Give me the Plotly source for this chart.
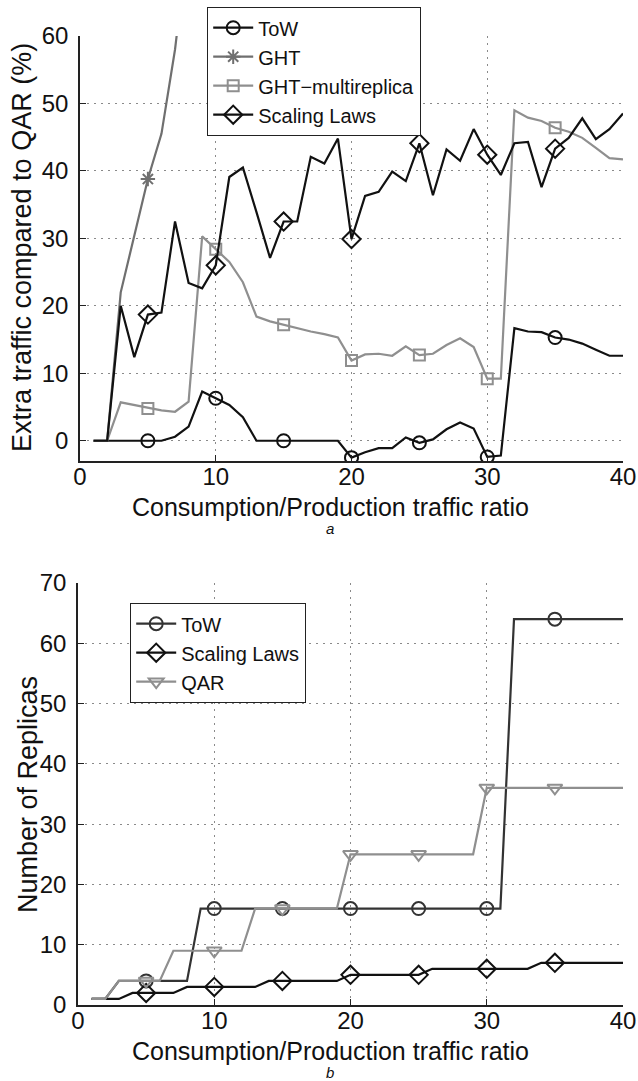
import plotly.graph_objects as go

# ---------------- data ----------------
ratio = list(range(1, 41))

# panel a: extra traffic compared to QAR (%)
tow_a = [0, 0, 0, 0, 0, 0, 0.6, 2.1, 7.3, 6.3,
         5.3, 3.5, 0, 0, 0, 0, 0, 0, 0, -2.5,
         -1.7, -1.1, -1.1, 0.5, -0.3, 0.2, 1.7, 2.7, 1.8, -2.4,
         -2.2, 16.7, 16.2, 16.1, 15.3, 15.0, 14.4, 13.5, 12.6, 12.6]
ght_x = [1, 2, 3, 4, 5, 6, 7, 8, 9]
ght_a = [0, 0, 22.0, 30.4, 38.8, 45.5, 58.0, 75.0, 90.0]
ghtm_a = [0, 0, 5.7, 5.3, 4.8, 4.5, 4.3, 5.8, 30.3, 28.4,
          26.5, 23.5, 18.4, 17.7, 17.2, 16.6, 16.2, 15.8, 15.3, 11.9,
          12.8, 12.9, 12.6, 14.0, 12.7, 12.9, 14.2, 15.2, 13.9, 9.2,
          9.2, 49.0, 47.9, 47.4, 46.4, 45.8, 44.9, 43.4, 41.9, 41.7]
scal_a = [0, 0, 20.0, 12.4, 18.7, 19.0, 32.5, 23.4, 22.6, 26.0,
          39.1, 40.5, 33.9, 27.1, 32.5, 32.5, 42.1, 41.1, 44.8, 29.9,
          36.3, 36.9, 39.9, 38.5, 44.1, 36.4, 43.2, 41.5, 46.2, 42.4,
          39.4, 44.1, 44.3, 37.6, 43.3, 44.9, 47.8, 44.7, 46.2, 48.5]

# panel b: number of replicas
tow_b = [1, 1] + [4] * 6 + [16] * 23 + [64] * 9
scal_b = [1] * 3 + [2] * 4 + [3] * 6 + [4] * 6 + [5] * 6 + [6] * 8 + [7] * 7
qar_b = [1] * 2 + [4] * 4 + [9] * 6 + [16] * 7 + [25] * 10 + [36] * 11

ticks_x = [0, 10, 20, 30, 40]
ticks_ya = [0, 10, 20, 30, 40, 50, 60]
ticks_yb = [0, 10, 20, 30, 40, 50, 60, 70]

FONT = "Liberation Sans, Arial, Helvetica, sans-serif"
BLACK = "#111111"
DARK = "#333333"
MID = "#6f6f6f"
LIGHT = "#8f8f8f"

W, H = 638, 1081


def marks(xs, ys):
    pts = [(a, b) for a, b in zip(xs, ys) if a % 5 == 0 and a < 40]
    return [p[0] for p in pts], [p[1] for p in pts]


fig = go.Figure()


def add_series(xs, ys, name, color, symbol, msize, xa, ya, legend, lw=2.2):
    fig.add_trace(go.Scatter(x=xs, y=ys, mode="lines", line=dict(color=color, width=lw),
                             showlegend=False, xaxis=xa, yaxis=ya, hoverinfo="skip"))
    mx, my = marks(xs, ys)
    fig.add_trace(go.Scatter(x=mx, y=my, mode="markers",
                             marker=dict(symbol=symbol, size=msize, color=color,
                                         line=dict(color=color, width=2)),
                             showlegend=False, xaxis=xa, yaxis=ya))
    fig.add_trace(go.Scatter(x=[None], y=[None], mode="lines+markers", name=name,
                             line=dict(color=color, width=lw),
                             marker=dict(symbol=symbol, size=msize, color=color,
                                         line=dict(color=color, width=2)),
                             xaxis=xa, yaxis=ya, legend=legend))


add_series(ratio, tow_a, "ToW", BLACK, "circle-open", 13, "x", "y", "legend")
add_series(ght_x, ght_a, "GHT", MID, "asterisk-open", 12, "x", "y", "legend")
add_series(ratio, ghtm_a, "GHT\u2212multireplica", LIGHT, "square-open", 11, "x", "y", "legend")
add_series(ratio, scal_a, "Scaling Laws", BLACK, "diamond-open", 14, "x", "y", "legend")

add_series(ratio, tow_b, "ToW", DARK, "circle-open", 13, "x2", "y2", "legend2")
add_series(ratio, scal_b, "Scaling Laws", BLACK, "diamond-open", 14, "x2", "y2", "legend2")
add_series(ratio, qar_b, "QAR", LIGHT, "triangle-down-open", 13, "x2", "y2", "legend2")

TICKFONT = dict(family=FONT, size=24, color="#111")
axis_common = dict(showline=True, linecolor="#222222", linewidth=1.5, mirror=False,
                   ticks="inside", ticklen=6, tickcolor="#222222", tickwidth=1.2,
                   showgrid=True, gridcolor="#8a8a8a", griddash="2px,5px", gridwidth=1,
                   zeroline=False, tickfont=TICKFONT, automargin=False)
xcommon = dict(axis_common, ticklabelstandoff=-7)
ycommon = dict(axis_common, ticklabelstandoff=5)

# plot-area pixel boxes
A_L, A_R, A_T, A_B = 80, 623, 36, 461
B_L, B_R, B_T, B_B = 78, 623, 583, 1005


def px_y(p):
    return 1 - p / H


def label(text, xpx, ypx, size, angle=0):
    return dict(text=text, x=xpx / W, y=px_y(ypx), xref="paper", yref="paper",
                xanchor="center", yanchor="middle", textangle=angle, showarrow=False,
                font=dict(family=FONT, size=size, color="#111"))


XT = "Consumption/Production traffic ratio"

fig.update_layout(
    width=W, height=H, margin=dict(l=0, r=0, t=0, b=0),
    paper_bgcolor="white", plot_bgcolor="white",
    font=dict(family=FONT, color="#111"),
    xaxis=dict(domain=[A_L / W, A_R / W], range=[0, 40], tickvals=ticks_x, anchor="y", **xcommon),
    yaxis=dict(domain=[px_y(A_B), px_y(A_T)], range=[-3, 60], tickvals=ticks_ya, anchor="x", **ycommon),
    xaxis2=dict(domain=[B_L / W, B_R / W], range=[0, 40], tickvals=ticks_x, anchor="y2", **xcommon),
    yaxis2=dict(domain=[px_y(B_B), px_y(B_T)], range=[0, 70], tickvals=ticks_yb, anchor="x2", **ycommon),
    legend=dict(x=207 / W, y=px_y(7), xanchor="left", yanchor="top",
                bgcolor="white", bordercolor="#222", borderwidth=1.2, itemwidth=40,
                font=dict(family=FONT, size=20, color="#111"), tracegroupgap=0),
    legend2=dict(x=130 / W, y=px_y(603), xanchor="left", yanchor="top",
                 bgcolor="white", bordercolor="#222", borderwidth=1.2, itemwidth=40,
                 font=dict(family=FONT, size=20, color="#111"), tracegroupgap=0),
    annotations=[
        label("Extra traffic compared to QAR (%)", 22, 248, 27, -90),
        label(XT, 330, A_B + 46, 25),
        label("<i>a</i>", 330, A_B + 67, 15),
        label("Number of Replicas", 28, 795, 27, -90),
        label(XT, 330, B_B + 46, 25),
        label("<i>b</i>", 330, B_B + 67, 15),
    ],
)

fig.write_html("out.html")
